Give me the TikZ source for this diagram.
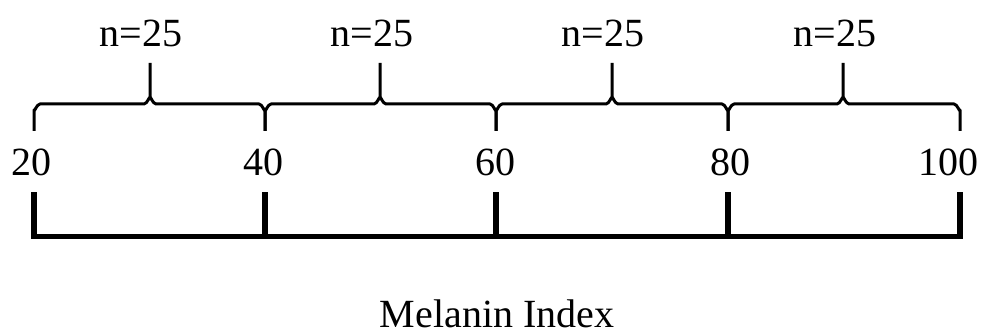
\documentclass[tikz,border=0pt]{standalone}
\usepackage{fontspec}
\setmainfont{Liberation Serif}
\begin{document}
\begin{tikzpicture}[x=1pt,y=-1pt,
  lbl/.style={inner sep=0pt,anchor=base,font=\fontsize{40}{48}\selectfont},
  brace/.style={line width=3pt,line join=round},
  bar/.style={line width=5.5pt,line join=miter}]
\useasboundingbox (0,0) rectangle (982,334);
% braces
\foreach \a/\m/\b in {34/150/265, 265/380/496, 496/612/728, 728/843/960}{
  \draw[brace] (\a,131) -- (\a,110) to[out=-90,in=180] (\a+6,104) -- (\m-6,104)
     to[out=0,in=90] (\m,98) -- (\m,63);
  \draw[brace] (\m,98) to[out=90,in=180] (\m+6,104) -- (\b-6,104)
     to[out=0,in=-90] (\b,110) -- (\b,131);
}
% n labels
\node[lbl] (n1) at (141,47) {n=25};
\node[lbl] (n2) at (372,47) {n=25};
\node[lbl] (n3) at (603,47) {n=25};
\node[lbl] (n4) at (835,47) {n=25};
% numbers
\node[lbl] (v20) at (32,175) {20};
\node[lbl] (v40) at (263,175) {40};
\node[lbl] (v60) at (495,175) {60};
\node[lbl] (v80) at (730,175) {80};
\node[lbl] (v100) at (948,175) {100};
% bottom bar
\coordinate (b0) at (34,192);
\coordinate (b1) at (265,192);
\coordinate (b2) at (496,192);
\coordinate (b3) at (728,192);
\coordinate (b4) at (960,192);
\draw[bar] (b0) -- (34,236.5) -- (960,236.5) -- (b4);
\foreach \c in {b1,b2,b3}{\draw[bar] (\c) -- (\c |- 0,236.5);}
\node[lbl] (title) at (497,327) {Melanin Index};
\end{tikzpicture}
\end{document}
